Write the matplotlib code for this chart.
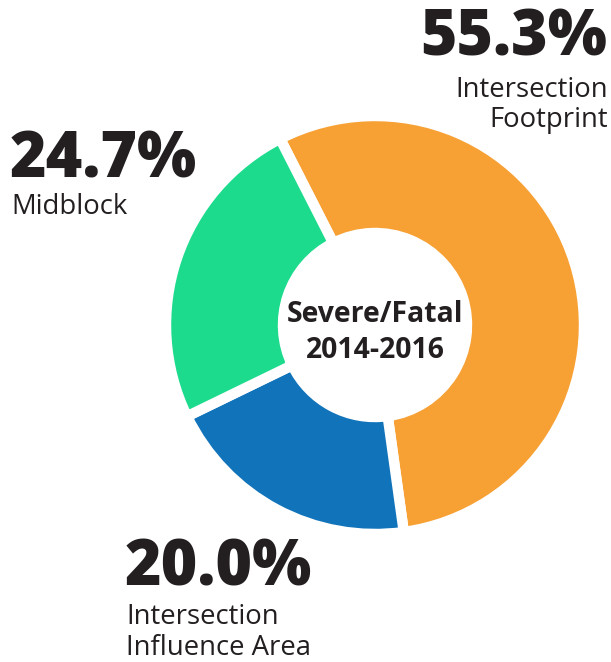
import matplotlib
matplotlib.use("Agg")
import matplotlib.pyplot as plt

categories = ["Intersection Footprint", "Intersection Influence Area", "Midblock"]
values = [55.3, 20.0, 24.7]
pct_labels = ["55.3%", "20.0%", "24.7%"]
colors = ["#F7A034", "#1174BB", "#1DDB8D"]
center_label = "Severe/Fatal\n2014-2016"

W, H = 611, 662
fig = plt.figure(figsize=(W / 100, H / 100), dpi=100)
fig.patch.set_facecolor("white")

cx, cy, R = 375, 325, 209  # pixels
ax = fig.add_axes([(cx - R) / W, (H - cy - R) / H, 2 * R / W, 2 * R / H])
ax.set_aspect("equal")
ax.axis("off")
ax.pie(values, colors=colors, startangle=117, counterclock=False, radius=1.0,
       wedgeprops=dict(width=117 / R, edgecolor="white", linewidth=7.5))
ax.set_xlim(-1, 1)
ax.set_ylim(-1, 1)

dark = "#231F20"
fam = ["Open Sans", "DejaVu Sans"]
big = 45
small = 19.8


def ftxt(x, y, s, **kw):
    fig.text(x / W, 1 - y / H, s, color=dark, family=fam, va="baseline", **kw)


# Intersection Footprint
ftxt(607, 56, pct_labels[0], ha="right", fontsize=big, fontweight=800)
ftxt(608, 97, "Intersection", ha="right", fontsize=small)
ftxt(608, 127, "Footprint", ha="right", fontsize=small)

# Midblock
ftxt(10, 178, pct_labels[2], ha="left", fontsize=big, fontweight=800)
ftxt(11, 214, "Midblock", ha="left", fontsize=small)

# Intersection Influence Area
ftxt(125, 586, pct_labels[1], ha="left", fontsize=big, fontweight=800)
ftxt(126, 624, "Intersection", ha="left", fontsize=small)
ftxt(126, 655, "Influence Area", ha="left", fontsize=small)

# center
l1, l2 = center_label.split("\n")
ftxt(375, 322, l1, ha="center", fontsize=20.4, fontweight="bold")
ftxt(375, 358, l2, ha="center", fontsize=20.4, fontweight="bold")

fig.savefig("out.png", dpi=100, facecolor="white")
